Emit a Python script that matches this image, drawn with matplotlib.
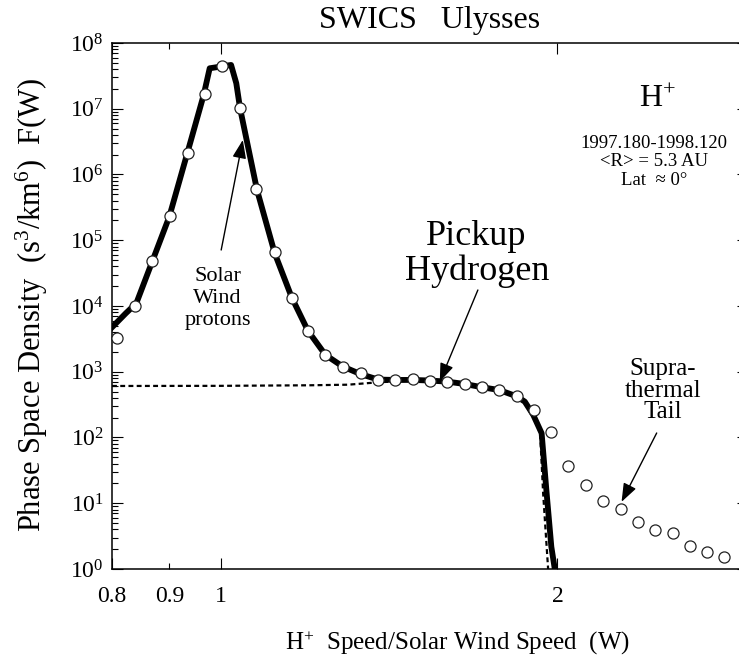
import numpy as np
import matplotlib
matplotlib.use("Agg")
import matplotlib.pyplot as plt
from matplotlib.ticker import (FixedLocator, FixedFormatter, LogLocator,
                               LogFormatterMathtext, NullFormatter)

plt.rcParams['font.family'] = ['Liberation Serif', 'DejaVu Serif']
plt.rcParams['mathtext.fontset'] = 'custom'
plt.rcParams['mathtext.rm'] = 'Liberation Serif'
plt.rcParams['mathtext.it'] = 'Liberation Serif:italic'
plt.rcParams['mathtext.bf'] = 'Liberation Serif:bold'


# ----- MEASURED PHASE SPACE DENSITY (open circles) -----
w_obs = [0.809, 0.839, 0.869, 0.902, 0.935, 0.969, 1.004, 1.040, 1.076,
         1.118, 1.158, 1.197, 1.241, 1.286, 1.334, 1.383, 1.433, 1.486,
         1.538, 1.595, 1.653, 1.713, 1.774, 1.839, 1.904, 1.973, 2.045,
         2.121, 2.198, 2.278, 2.359, 2.445, 2.535, 2.627, 2.723, 2.819]
f_obs = [3.3e3, 1.0e4, 4.8e4, 2.3e5, 2.1e6, 1.66e7, 4.5e7, 1.04e7, 6.0e5,
         6.6e4, 1.34e4, 4.2e3, 1.8e3, 1.2e3, 950, 750, 750, 767,
         735, 706, 651, 580, 527, 423, 262, 120, 37,
         19, 11, 8.3, 5.1, 3.9, 3.5, 2.24, 1.8, 1.5]

# ----- TOTAL MODEL: solar wind + pickup (thick solid) -----
w_fit = [0.800, 0.823, 0.841, 0.870, 0.900, 0.933, 0.966, 0.978, 1.022,
         1.033, 1.041, 1.078, 1.118, 1.158, 1.197, 1.241, 1.286, 1.334,
         1.383, 1.433, 1.486, 1.538, 1.595, 1.653, 1.713, 1.774, 1.839,
         1.870, 1.903, 1.936, 1.956, 1.975, 1.992]
f_fit = [4.74e3, 7.74e3, 1.10e4, 5.0e4, 2.28e5, 1.98e6, 1.62e7, 4.12e7, 4.63e7,
         2.44e7, 1.02e7, 5.81e5, 6.33e4, 1.34e4, 4.2e3, 1.8e3, 1.2e3, 920,
         760, 750, 750, 735, 706, 651, 580, 527, 423,
         351, 220, 116, 14.2, 2.18, 0.85]

# ----- PICKUP HYDROGEN MODEL (dashed) -----
w_pui = [0.800, 1.000, 1.200, 1.300, 1.383, 1.450, 1.540, 1.600, 1.653,
         1.713, 1.774, 1.839, 1.870, 1.903, 1.930, 1.942, 1.962]
f_pui = [607, 610, 622, 635, 690, 720, 725, 700, 645,
         575, 520, 418, 345, 215, 116, 14.2, 1.0]

# ----- AXIS TICKS -----
x_major = [0.8, 1, 2]
x_major_labels = ["0.8", "1", "2"]
x_minor = [0.9]
x_minor_labels = ["0.9"]


# ----- PLOT -----
fig = plt.figure(figsize=(7.39, 6.63), dpi=100)
ax = fig.add_axes([0.1516, 0.1418, 0.8606, 0.7934])
ax.set_xscale('log')
ax.set_yscale('log')

ax.plot(w_pui, f_pui, color='k', lw=1.6, ls=(0, (2.2, 1.5)), zorder=2)
ax.plot(w_fit, f_fit, color='k', lw=4.2, solid_joinstyle='round', zorder=3)
ax.plot(w_obs, f_obs, 'o', ms=8, mfc='white', mec='#222222', mew=0.9,
        zorder=4, clip_on=False)

ax.set_xlim(0.8, 2.96)
ax.set_ylim(1, 1e8)

ax.xaxis.set_major_locator(FixedLocator(x_major))
ax.xaxis.set_major_formatter(FixedFormatter(x_major_labels))
ax.xaxis.set_minor_locator(FixedLocator(x_minor))
ax.xaxis.set_minor_formatter(FixedFormatter(x_minor_labels))
ax.yaxis.set_major_locator(LogLocator(base=10, numticks=20))
ax.yaxis.set_major_formatter(LogFormatterMathtext())
ax.yaxis.set_minor_locator(LogLocator(base=10, subs=np.arange(2, 10), numticks=20))
ax.yaxis.set_minor_formatter(NullFormatter())

ax.tick_params(which='both', direction='in', top=True, right=True,
               labelsize=17, width=0.8)
ax.tick_params(which='major', length=8)
ax.tick_params(which='minor', length=4.5)
ax.tick_params(axis='x', which='both', pad=12)
ax.tick_params(axis='y', which='both', pad=6)
for s in ax.spines.values():
    s.set_linewidth(1.1)

ax.set_title("SWICS   Ulysses", fontsize=23, pad=11)
ax.set_ylabel("Phase Space Density  (s$^{3}$/km$^{6}$)  F(W)", fontsize=22)
ax.yaxis.set_label_coords(-0.097, 0.503)
ax.set_xlabel("H$^{+}$  Speed/Solar Wind Speed  (W)", fontsize=18)
ax.xaxis.set_label_coords(0.5425, -0.154)
ax.xaxis.label.set_verticalalignment('baseline')

# ----- ANNOTATIONS -----
arrow = dict(arrowstyle='-|>,head_length=0.8,head_width=0.3', color='k',
             lw=1.0, mutation_scale=14, shrinkA=0, shrinkB=0)

ax.text(0.994, 1.3e4, "Solar\nWind\nprotons", ha='center', va='center',
        fontsize=16, linespacing=1.2)
ax.annotate("", xy=(1.047, 3.35e6), xytext=(1.0014, 7.1e4), arrowprops=arrow)

ax.text(1.694, 6.2e4, "Pickup\nHydrogen", ha='center', va='center',
        fontsize=26, linespacing=1.05)
ax.annotate("", xy=(1.570, 706), xytext=(1.698, 1.75e4), arrowprops=arrow)

ax.text(2.485, 510, "Supra-\nthermal\nTail", ha='center', va='center',
        fontsize=18, linespacing=0.97)
ax.annotate("", xy=(2.282, 10.5), xytext=(2.453, 117), arrowprops=arrow)

ax.text(0.857, 0.878, "H$^{+}$", transform=ax.transAxes, ha='center',
        va='baseline', fontsize=23)
ax.text(0.852, 0.774, "1997.180-1998.120\n<R> = 5.3 AU\nLat  \u2248 0\u00b0",
        transform=ax.transAxes, ha='center', va='center', fontsize=13.5,
        linespacing=1.1)

fig.savefig("out.png", dpi=100)
